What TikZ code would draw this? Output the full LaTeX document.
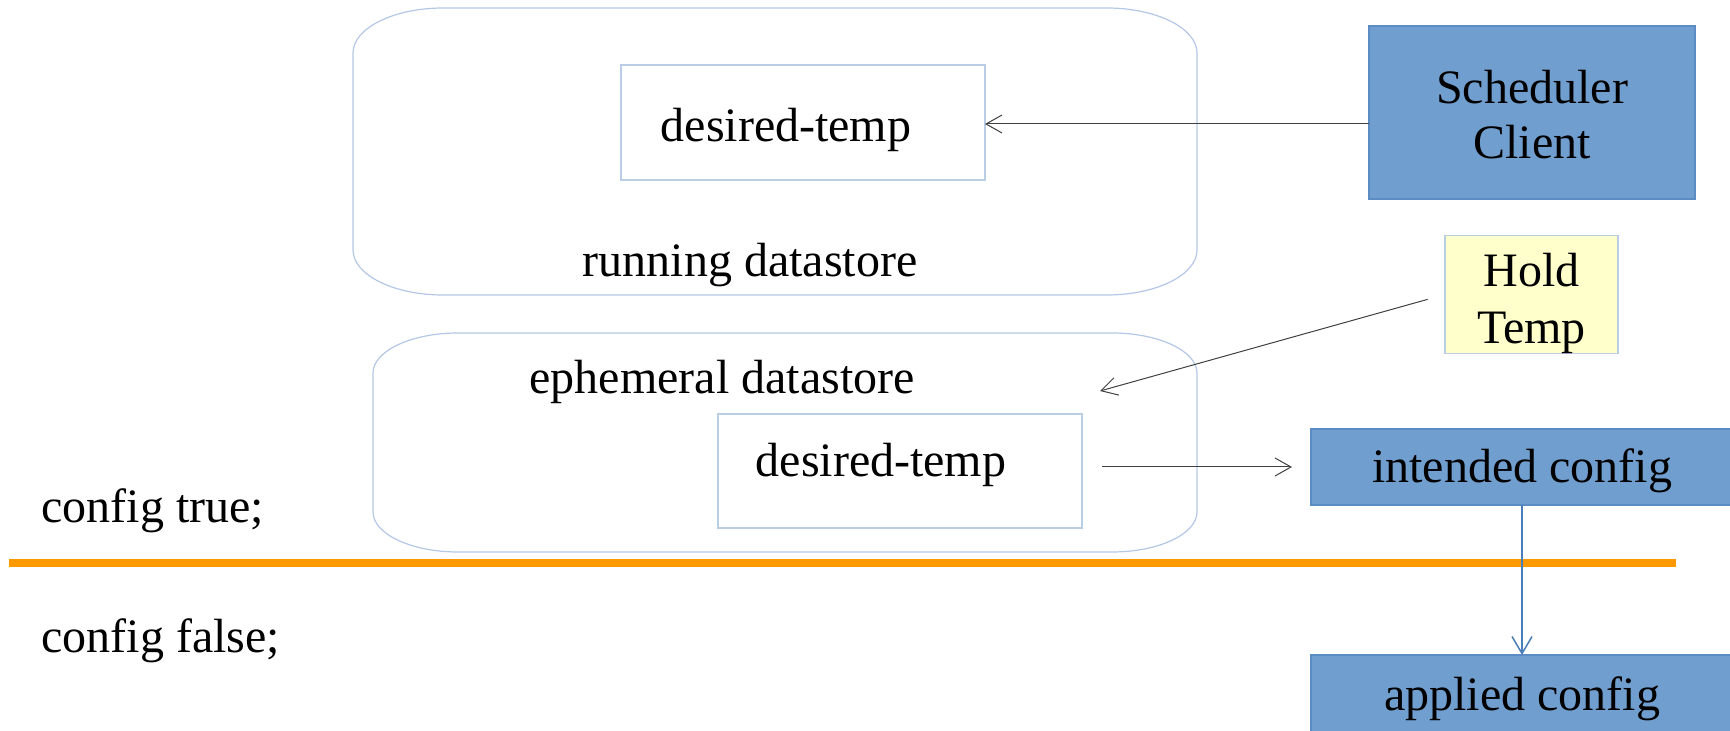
\documentclass[tikz,border=0pt]{standalone}
\usepackage{fontspec}
\setmainfont{Liberation Serif}
\usetikzlibrary{arrows.meta}
\definecolor{boxblue}{HTML}{709ECE}
\definecolor{boxblueline}{HTML}{5B8CC4}
\definecolor{paleyellow}{HTML}{FFFFCC}
\definecolor{paleline}{HTML}{B9CDE5}
\definecolor{contline}{HTML}{B4C7E7}
\definecolor{orangeline}{HTML}{FF9900}
\definecolor{arrowblue}{HTML}{4A7EBB}
\definecolor{arrowgray}{HTML}{404040}
\newcommand\softbox[6]{%
  \draw[contbox] (#1+#5,#2) -- (#3-#5,#2)
    .. controls (#3-0.45*#5,#2) and (#3,#2+0.45*#6) .. (#3,#2+#6)
    -- (#3,#4-#6)
    .. controls (#3,#4-0.45*#6) and (#3-0.45*#5,#4) .. (#3-#5,#4)
    -- (#1+#5,#4)
    .. controls (#1+0.45*#5,#4) and (#1,#4-0.45*#6) .. (#1,#4-#6)
    -- (#1,#2+#6)
    .. controls (#1,#2+0.45*#6) and (#1+0.45*#5,#2) .. cycle;}
\begin{document}
\begin{tikzpicture}[x=0.5pt,y=-0.5pt,
  bigfont/.style={font=\fontsize{24}{27.5}\selectfont},
  txt/.style={bigfont, inner sep=0pt, anchor=base},
  contbox/.style={draw=contline, line width=0.6pt},
  plainbox/.style={draw=paleline, line width=0.6pt, inner sep=0pt, outer sep=0pt},
  bluebox/.style={draw=boxblueline, fill=boxblue, line width=0.6pt, inner sep=0pt, outer sep=0pt, bigfont, align=center},
  yellowbox/.style={draw=paleline, fill=paleyellow, line width=0.6pt, inner sep=0pt, outer sep=0pt, align=center, font=\fontsize{24}{28.5}\selectfont},
  thinarrow/.style={draw=arrowgray, line width=0.5pt, -{Straight Barb[length=8pt, width=9pt]}},
  bluearrow/.style={draw=arrowblue, line width=0.75pt, -{Straight Barb[length=8.5pt, width=10pt]}},
  divider/.style={draw=orangeline, line width=4pt}
]
\useasboundingbox (0,0) rectangle (1730,731);
\clip (0,0) rectangle (1730,731);

% containers
\softbox{353}{8}{1197}{295}{90}{45}
\softbox{373}{333}{1197}{552}{85}{40}

% inner boxes
\node[plainbox, minimum width=182pt, minimum height=57.5pt] (dt1) at (803,122.5) {};
\node[txt] (dt1txt) at (786,142) {desired-temp};
\node[txt] (runlbl) at (750,277) {running datastore};

\node[plainbox, minimum width=182pt, minimum height=57pt] (dt2) at (900,471) {};
\node[txt] (dt2txt) at (881,477) {desired-temp};
\node[txt] (ephlbl) at (722,394) {ephemeral datastore};

% right side boxes
\node[bluebox, minimum width=163pt, minimum height=86.5pt] (sched) at (1532,112.5) {\rule{0pt}{18.5pt}Scheduler\\Client};
\node[yellowbox, minimum width=86.5pt, minimum height=57.5pt] (hold) at (1531.5,294.5) {\rule{0pt}{25.5pt}Hold\\Temp};
\node[bluebox, minimum width=211pt, minimum height=38pt, text height=18pt, text depth=2pt] (intended) at (1522,467) {intended config};
\node[bluebox, minimum width=211pt, minimum height=56pt, text height=10pt, text depth=10pt] (applied) at (1522,711) {applied config};

% separator and labels
\coordinate (sepL) at (9,563);
\coordinate (sepR) at (1676,563);
\draw[divider] (sepL) -- (sepR);
\node[txt, anchor=base west] (cfgtrue) at (41,523) {config true;};
\node[txt, anchor=base west] (cfgfalse) at (41,653) {config false;};

% connectors
\coordinate (a1) at (1004,124);
\draw[thinarrow] (sched.west |- a1) -- (dt1.east |- a1);
\coordinate (h1) at (1100,391);
\draw[thinarrow, shorten <=9pt] (hold.west) -- (h1);
\draw[thinarrow, shorten <=10pt, shorten >=9.5pt] (dt2.east |- intended.west) -- (intended.west);
\draw[bluearrow] (intended.south) -- (applied.north);
\end{tikzpicture}
\end{document}
